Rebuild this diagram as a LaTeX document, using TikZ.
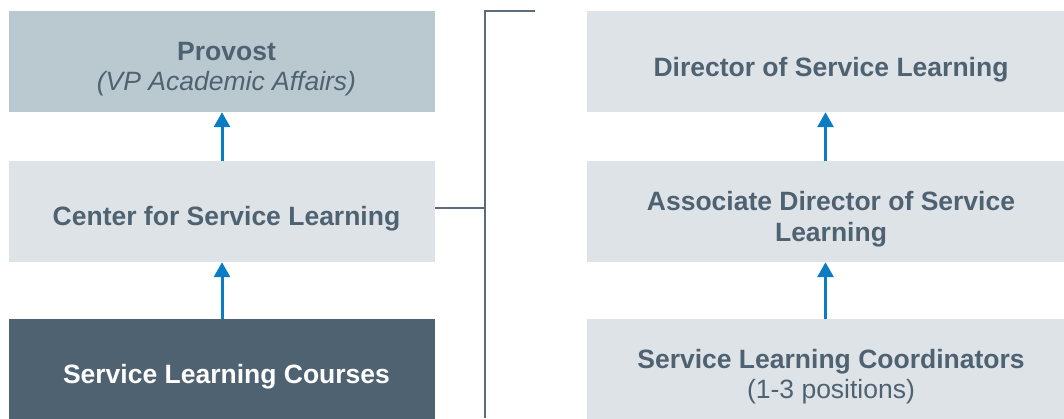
\documentclass[tikz,border=0pt]{standalone}
\usepackage{fontspec}
\setmainfont{Liberation Sans}
\usetikzlibrary{arrows.meta}
\definecolor{boxlight}{HTML}{DEE3E7}
\definecolor{boxmid}{HTML}{BAC8D0}
\definecolor{boxdark}{HTML}{4F6272}
\definecolor{inktext}{HTML}{4F6272}
\definecolor{arrowblue}{HTML}{0A7CC4}
\definecolor{bracket}{HTML}{5B6D7D}
\begin{document}
\begin{tikzpicture}[x=1pt,y=-1pt,
  orgbox/.style={rectangle, draw=none, minimum width=#1, minimum height=101pt, inner sep=0pt},
  orgbox/.default=426pt,
  lightbox/.style={orgbox=#1, fill=boxlight},
  lightbox/.default=477pt,
  % base anchor sits on the baseline of the last line
  caption/.style={font=\fontsize{26.5}{29.5}\selectfont\bfseries, text=inktext,
    align=center, inner sep=0pt, anchor=base},
  uparrow/.style={draw=arrowblue, line width=3pt, -{Triangle[length=15pt,width=16pt]}},
  bracketline/.style={draw=bracket, line width=2pt}
]
\useasboundingbox (0,0) rectangle (1064,418);

% left column
\node[orgbox, fill=boxmid] (provost) at (222,61.5) {};
\node[orgbox, fill=boxlight] (center) at (222,211.5) {};
\node[orgbox, fill=boxdark, minimum height=110pt] (courses) at (222,374) {};

\node[caption, font=\fontsize{26.5}{30}\selectfont\bfseries] (provostT) at (226.5,90)
  {Provost\\{\mdseries\itshape (VP Academic Affairs)}};
\node[caption] (centerT) at (226.5,225.7) {Center for Service Learning};
\node[caption, text=white] (coursesT) at (226.5,383.3) {Service Learning Courses};

% right column
\node[lightbox] (director) at (825.5,61.5) {};
\node[lightbox] (associate) at (825.5,211.5) {};
\node[lightbox, minimum height=110pt] (coord) at (825.5,374) {};

\node[caption] (directorT) at (831,76.5) {Director of Service Learning};
\node[caption, font=\fontsize{26.5}{31.5}\selectfont\bfseries] (associateT) at (831,241.5)
  {Associate Director of Service\\Learning};
\node[caption, font=\fontsize{26.5}{30}\selectfont\bfseries] (coordT) at (831,398.3)
  {Service Learning Coordinators\\{\mdseries (1-3 positions)}};

% reporting arrows
\draw[uparrow] (center.north) -- (provost.south);
\draw[uparrow] (courses.north) -- (center.south);
\draw[uparrow] (associate.north) -- (director.south);
\draw[uparrow] (coord.north) -- (associate.south);

% bracket linking the two columns
\coordinate (bjoin) at (485,208);
\coordinate (btop) at (485,11);
\coordinate (btick) at (535,11);
\coordinate (bbottom) at (485,418);
\draw[bracketline] (center.east |- bjoin) -- (bjoin);
\draw[bracketline, line cap=butt] (btick) -- (btop) -- (bbottom);
\end{tikzpicture}
\end{document}
